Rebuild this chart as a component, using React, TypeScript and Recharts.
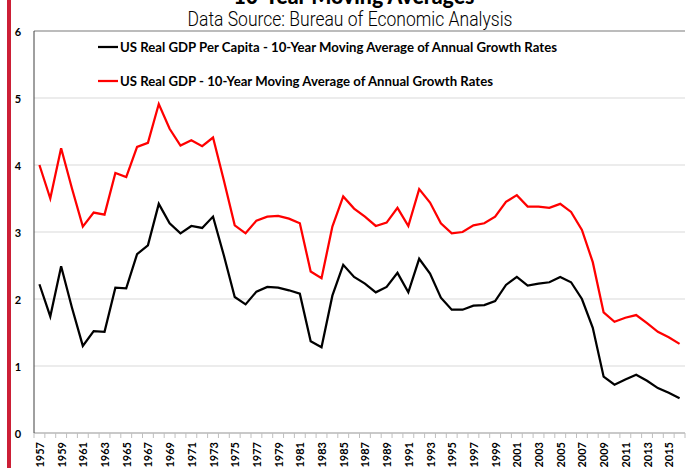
import React from 'react';
import {
  LineChart,
  Line,
  XAxis,
  YAxis,
  CartesianGrid,
  ReferenceLine,
  Legend,
} from 'recharts';

const years = [
  1957, 1958, 1959, 1960, 1961, 1962, 1963, 1964, 1965, 1966, 1967, 1968,
  1969, 1970, 1971, 1972, 1973, 1974, 1975, 1976, 1977, 1978, 1979, 1980,
  1981, 1982, 1983, 1984, 1985, 1986, 1987, 1988, 1989, 1990, 1991, 1992,
  1993, 1994, 1995, 1996, 1997, 1998, 1999, 2000, 2001, 2002, 2003, 2004,
  2005, 2006, 2007, 2008, 2009, 2010, 2011, 2012, 2013, 2014, 2015, 2016,
];

const realGdp = [
  4.0, 3.5, 4.25, 3.65, 3.08, 3.29, 3.26, 3.88, 3.82, 4.27, 4.33, 4.91,
  4.54, 4.29, 4.37, 4.28, 4.41, 3.77, 3.1, 2.98, 3.17, 3.23, 3.24, 3.2,
  3.13, 2.41, 2.31, 3.08, 3.53, 3.35, 3.23, 3.09, 3.14, 3.36, 3.09, 3.64,
  3.44, 3.13, 2.98, 3.0, 3.1, 3.13, 3.23, 3.45, 3.55, 3.38, 3.38, 3.36,
  3.42, 3.3, 3.03, 2.55, 1.8, 1.66, 1.72, 1.76, 1.64, 1.51, 1.43, 1.33,
];

const perCapita = [
  2.22, 1.74, 2.49, 1.87, 1.3, 1.52, 1.51, 2.17, 2.16, 2.67, 2.8, 3.42,
  3.13, 2.98, 3.09, 3.06, 3.23, 2.65, 2.03, 1.92, 2.11, 2.18, 2.17, 2.13,
  2.08, 1.37, 1.28, 2.05, 2.51, 2.33, 2.23, 2.1, 2.18, 2.39, 2.1, 2.6,
  2.38, 2.02, 1.84, 1.84, 1.9, 1.91, 1.97, 2.21, 2.33, 2.2, 2.23, 2.25,
  2.33, 2.25, 2.0, 1.57, 0.84, 0.72, 0.8, 0.87, 0.78, 0.67, 0.6, 0.52,
];

const yTicks = [0, 1, 2, 3, 4, 5, 6];

const data = years.map((year, i) => ({
  year,
  gdp: realGdp[i],
  perCapita: perCapita[i],
}));

const FONT = 'Lato, "Open Sans", sans-serif';
const BAND = 651 / years.length;

const XTick = ({ x, y, payload, index }: any) => {
  const showLabel = (payload.value - years[0]) % 2 === 0;
  const last = index === years.length - 1;
  return (
    <g>
      <line x1={x - BAND / 2} x2={x - BAND / 2} y1={y} y2={y + 5} stroke='#bfbfbf' />
      {last && (
        <line x1={x + BAND / 2} x2={x + BAND / 2} y1={y} y2={y + 5} stroke='#bfbfbf' />
      )}
      {showLabel && (
        <text
          x={x}
          y={y + 9}
          transform={`rotate(-90, ${x}, ${y + 9})`}
          textAnchor='end'
          dominantBaseline='central'
          fontFamily={FONT}
          fontWeight={700}
          fontSize={11}
          fill='#000'
        >
          {payload.value}
        </text>
      )}
    </g>
  );
};

const YTick = ({ y, payload }: any) => (
  <text
    x={18}
    y={y}
    textAnchor='middle'
    dominantBaseline='central'
    fontFamily={FONT}
    fontWeight={700}
    fontSize={11}
    fill='#000'
  >
    {payload.value}
  </text>
);

const legendItems = [
  {
    label: 'US Real GDP Per Capita - 10-Year Moving Average of Annual Growth Rates',
    color: '#000000',
    width: 437,
  },
  {
    label: 'US Real GDP - 10-Year Moving Average of Annual Growth Rates',
    color: '#ff0000',
    width: 373,
  },
];

const LegendContent = () => (
  <svg width={520} height={60}>
    {legendItems.map((item, i) => (
      <g key={item.label} transform={`translate(0, ${i * 34})`}>
        <line x1={0} x2={20} y1={9} y2={9} stroke={item.color} strokeWidth={2.25} />
        <text
          x={22}
          y={9}
          dominantBaseline='central'
          fontFamily={FONT}
          fontWeight={700}
          fontSize={13}
          fill='#000'
          textLength={item.width}
          lengthAdjust='spacingAndGlyphs'
        >
          {item.label}
        </text>
      </g>
    ))}
  </svg>
);

export default function App() {
  return (
    <div
      style={{
        position: 'fixed',
        left: 0,
        top: 0,
        width: 691,
        height: 468,
        background: '#fff',
        overflow: 'hidden',
      }}
    >
      <div
        style={{
          position: 'absolute',
          left: 7,
          top: 0,
          width: 4,
          height: 468,
          background: '#cc1f36',
        }}
      />
      <svg
        width={691}
        height={31}
        style={{ position: 'absolute', left: 0, top: 0 }}
      >
        <text
          x={354}
          y={4}
          textAnchor='middle'
          fontFamily={FONT}
          fontWeight={900}
          fontSize={22}
          fill='#000'
          textLength={241}
          lengthAdjust='spacingAndGlyphs'
        >
          10-Year Moving Averages
        </text>
        <text
          x={350}
          y={26}
          textAnchor='middle'
          fontFamily='Roboto, sans-serif'
          fontWeight={300}
          fontSize={20}
          fill='#000'
          textLength={325}
          lengthAdjust='spacingAndGlyphs'
        >
          Data Source: Bureau of Economic Analysis
        </text>
      </svg>
      <LineChart
        width={691}
        height={468}
        data={data}
        margin={{ top: 31, right: 6, bottom: 0, left: 0 }}
      >
        <CartesianGrid vertical={false} stroke='#d9d9d9' />
        <XAxis
          dataKey='year'
          interval={0}
          height={35}
          padding={{ left: BAND / 2, right: BAND / 2 }}
          tickLine={false}
          tickSize={0}
          tickMargin={0}
          axisLine={{ stroke: '#a6a6a6' }}
          tick={<XTick />}
        />
        <YAxis
          domain={[0, 6]}
          ticks={yTicks}
          width={34}
          tickLine={false}
          axisLine={{ stroke: '#404040' }}
          tick={<YTick />}
        />
        <YAxis
          yAxisId='right'
          orientation='right'
          domain={[0, 6]}
          width={0}
          tick={false}
          tickLine={false}
          axisLine={{ stroke: '#8c8c8c' }}
        />
        <ReferenceLine y={6} stroke='#8c8c8c' />
        <Legend
          layout='horizontal'
          verticalAlign='middle'
          align='center'
          wrapperStyle={{ position: 'absolute', left: 98, top: 38, width: 520 }}
          content={<LegendContent />}
        />
        <Line
          type='linear'
          dataKey='gdp'
          stroke='#ff0000'
          strokeWidth={2.25}
          dot={false}
          isAnimationActive={false}
        />
        <Line
          type='linear'
          dataKey='perCapita'
          stroke='#000000'
          strokeWidth={2.25}
          dot={false}
          isAnimationActive={false}
        />
      </LineChart>
    </div>
  );
}
